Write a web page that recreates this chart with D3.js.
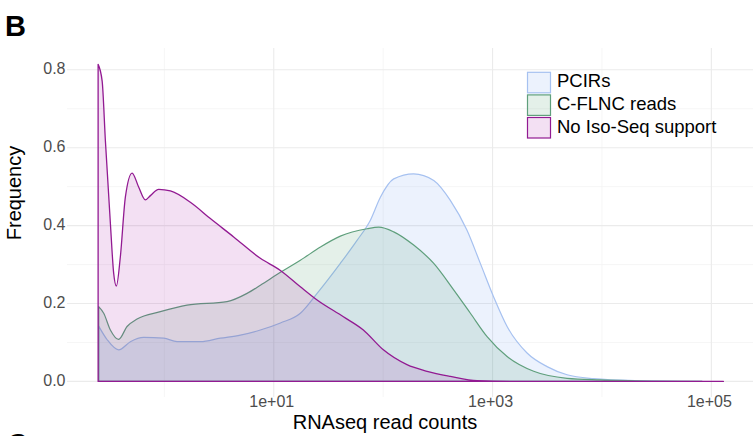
<!DOCTYPE html>
<html><head><meta charset="utf-8">
<script src="https://cdn.jsdelivr.net/npm/d3@7"></script>
<style>body{margin:0;background:#fff}svg{display:block;font-family:"Liberation Sans",Arial,sans-serif}</style>
</head><body><svg id="c" width="753" height="436"></svg>
<script>
// Series: [read count, frequency]
const seriesNames = ["PCIRs", "C-FLNC reads", "No Iso-Seq support"];
const pcirs = [[0.251,0.142],[0.30,0.107],[0.382,0.081],[0.489,0.102],[0.647,0.113],[0.986,0.111],[1.306,0.102],[2.133,0.102],[3.25,0.111],[4.95,0.119],[7.54,0.132],[11.5,0.150],[17.5,0.175],[24.9,0.226],[40.6,0.303],[57.7,0.362],[76.4,0.414],[94.3,0.473],[124.8,0.520],[190,0.533],[290,0.516],[411,0.465],[584,0.388],[773,0.303],[1023,0.217],[1358,0.141],[2067,0.073],[3149,0.038],[4798,0.017],[8395,0.007],[20000,0.002],[82200,0.0]];
const cflnc = [[0.251,0.192],[0.279,0.175],[0.321,0.132],[0.382,0.108],[0.456,0.141],[0.563,0.160],[0.919,0.179],[1.611,0.196],[3.74,0.205],[5.70,0.226],[7.54,0.247],[11.5,0.280],[17.5,0.311],[26.7,0.345],[40.6,0.373],[71.3,0.392],[91.0,0.396],[124.8,0.384],[190,0.350],[290,0.303],[441,0.235],[627,0.175],[891,0.115],[1358,0.064],[2376,0.026],[4798,0.008],[9666,0.004],[30000,0.001],[82200,0.0]];
const noIso = [[0.248,0.814],[0.27,0.771],[0.289,0.618],[0.321,0.406],[0.344,0.278],[0.364,0.245],[0.396,0.320],[0.44,0.473],[0.507,0.535],[0.582,0.499],[0.67,0.466],[0.745,0.477],[0.887,0.493],[1.135,0.489],[1.728,0.460],[2.633,0.418],[4.30,0.371],[7.54,0.316],[11.5,0.285],[17.5,0.243],[24.9,0.209],[43.3,0.166],[65.9,0.132],[100.4,0.081],[165,0.043],[252,0.026],[411,0.013],[721,0.002],[2000,0.0],[128800,0.0]];
const xTicks = [10, 1000, 100000];
const xMinor = [1, 100, 10000];
const yTicks = [0.0, 0.2, 0.4, 0.6, 0.8];
const yMinor = [0.1, 0.3, 0.5, 0.7];

const fills = ["rgba(100,149,237,0.12)", "rgba(46,139,87,0.13)", "rgba(153,0,153,0.12)"];
const strokes = ["#a6c1f0", "#5f9f7c", "#921a92"];

const svg = d3.select("#c");
const L = 67, R = 753, T = 48, B = 397;
const x = d3.scaleLog().domain([10**-0.89, 10**5.38]).range([L, L + (5.38+0.89)*109.4]);
const y = d3.scaleLinear().domain([-0.04, 0.856]).range([B, T]);

// grid
const g = svg.append("g");
g.selectAll(".hm").data(yMinor).join("line").attr("x1", L).attr("x2", R).attr("y1", d=>y(d)).attr("y2", d=>y(d)).attr("stroke", "#f4f4f4").attr("stroke-width", 0.8);
g.selectAll(".vm").data(xMinor).join("line").attr("y1", T).attr("y2", B).attr("x1", d=>x(d)).attr("x2", d=>x(d)).attr("stroke", "#f4f4f4").attr("stroke-width", 0.8);
g.selectAll(".hM").data(yTicks).join("line").attr("x1", L).attr("x2", R).attr("y1", d=>y(d)).attr("y2", d=>y(d)).attr("stroke", "#ebebeb").attr("stroke-width", 1.1);
g.selectAll(".vM").data(xTicks).join("line").attr("y1", T).attr("y2", B).attr("x1", d=>x(d)).attr("x2", d=>x(d)).attr("stroke", "#ebebeb").attr("stroke-width", 1.1);

// areas
const area = d3.area().x(d=>x(d[0])).y0(y(0)).y1(d=>y(d[1])).curve(d3.curveMonotoneX);
[pcirs, cflnc, noIso].forEach((s, i) => {
  svg.append("path").attr("d", area(s)).attr("fill", fills[i]).attr("stroke", strokes[i]).attr("stroke-width", i===2?1.3:1.2).attr("stroke-linejoin","round");
});

// axes labels
svg.selectAll(".yt").data(yTicks).join("text").attr("x", 65.5).attr("y", d=>y(d)+4.5).attr("text-anchor","end").attr("font-size",16).attr("fill","#4d4d4d").text(d=>d.toFixed(1));
svg.selectAll(".xt").data(xTicks).join("text").attr("x", d=>x(d)-2).attr("y", 407).attr("text-anchor","middle").attr("font-size",16).attr("fill","#4d4d4d").text(d=>"1e+" + String(Math.round(Math.log10(d))).padStart(2,"0"));
svg.append("text").attr("x",385).attr("y",428.5).attr("text-anchor","middle").attr("font-size",20).attr("fill","#000").text("RNAseq read counts");
svg.append("text").attr("transform","translate(21,193) rotate(-90)").attr("text-anchor","middle").attr("font-size",20).attr("fill","#000").text("Frequency");
svg.append("text").attr("x",5).attr("y",36).attr("font-size",29).attr("font-weight","bold").text("B");
svg.append("text").attr("x",7).attr("y",454).attr("font-size",29).attr("font-weight","bold").text("C");

// legend
const lg = svg.append("g");
seriesNames.forEach((n, i) => {
  const yy = 72.3 + i*22.6;
  lg.append("rect").attr("x",527.5).attr("y",yy).attr("width",23).attr("height",20.5).attr("fill",fills[i]).attr("stroke",strokes[i]).attr("stroke-width",1.2);
  lg.append("text").attr("x",557).attr("y",yy+15).attr("font-size",18.5).attr("fill","#000").text(n);
});
</script></body></html>
